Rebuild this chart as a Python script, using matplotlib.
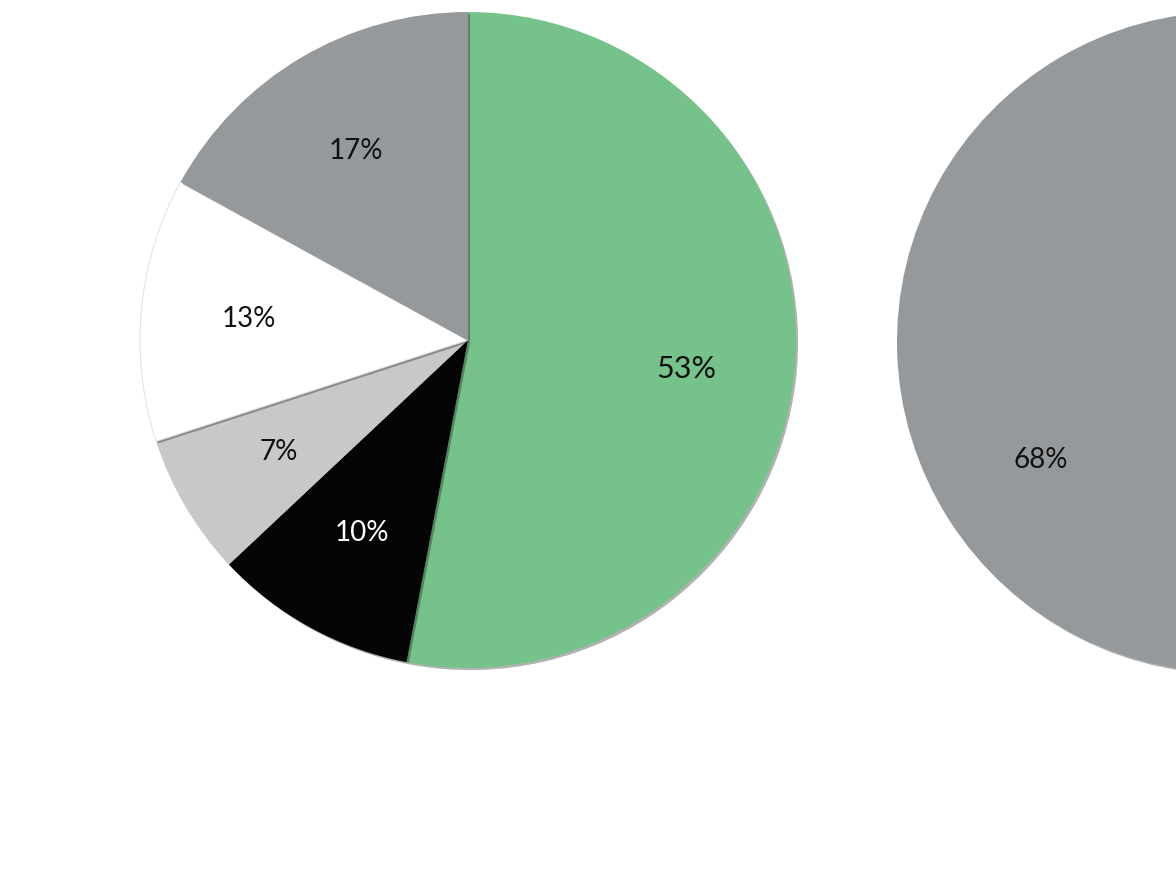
import matplotlib
matplotlib.use("Agg")
import matplotlib.pyplot as plt
import matplotlib.patheffects as pe

# left pie, clockwise from 12 o'clock
shares_left = [53, 10, 7, 13, 17]
colors_left = ['#76c28b', '#050505', '#c8c8c7', '#ffffff', '#96999c']
text_left = ['#111111', '#ffffff', '#111111', '#111111', '#111111']

# right pie, only partly on the page (the 32% part is off the page)
shares_right = [68, 32]
colors_right = ['#96999c', '#76c28b']
labels_right = ['68%', '']

plt.rcParams['font.family'] = ['Lato', 'DejaVu Sans']

fig = plt.figure(figsize=(11.76, 8.77), dpi=100)
ax = fig.add_axes([0, 0, 1, 1])

shadow = [pe.SimplePatchShadow(offset=(1.5, -1.5), shadow_rgbFace='#000000', alpha=0.3), pe.Normal()]

w1, t1 = ax.pie(shares_left, colors=colors_left, startangle=90, counterclock=False,
                center=(468, 537), radius=328, labels=[f'{v}%' for v in shares_left],
                labeldistance=0.67, frame=True,
                textprops=dict(fontsize=20, ha='center', va='center'))
for w in w1:
    w.set_path_effects(shadow)
w1[3].set_edgecolor('#e4e4e4')
w1[3].set_linewidth(0.8)
for t, c in zip(t1, text_left):
    t.set_color(c)
t1[0].set_fontsize(22)
t1[0].set_y(t1[0].get_position()[1] - 8)

w2, t2 = ax.pie(shares_right, colors=colors_right, startangle=90, counterclock=True,
                center=(1227, 535), radius=330, labels=labels_right,
                labeldistance=0.67, frame=True,
                textprops=dict(fontsize=20, ha='center', va='center', color='#111111'))
for w in w2:
    w.set_path_effects(shadow)

ax.set_xlim(0, 1176)
ax.set_ylim(0, 877)
ax.set_aspect('auto')
ax.axis('off')

fig.savefig('out.png', dpi=100)
